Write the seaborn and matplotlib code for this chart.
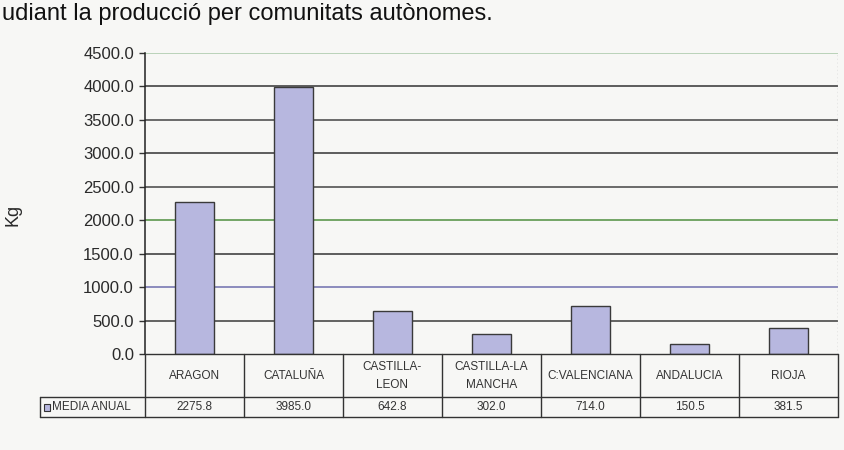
import numpy as np
import matplotlib
matplotlib.use("Agg")
import matplotlib.pyplot as plt
import seaborn as sns
import pandas as pd
from matplotlib.patches import Rectangle

# data
regions = [
    "ARAGON",
    "CATALUÑA",
    "CASTILLA-\nLEON",
    "CASTILLA-LA\nMANCHA",
    "C:VALENCIANA",
    "ANDALUCIA",
    "RIOJA",
]
media_anual = [2275.8, 3985.0, 642.8, 302.0, 714.0, 150.5, 381.5]
y_ticks = [0, 500, 1000, 1500, 2000, 2500, 3000, 3500, 4000, 4500]
series_name = "MEDIA ANUAL"
y_label = "Kg"
header_text = "udiant la producció per comunitats autònomes."

# scan-like gridline tints
grid_colors = {
    500: "#3a3a3a", 1000: "#6f6fae", 1500: "#333333", 2000: "#4f8f3f",
    2500: "#444444", 3000: "#333333", 3500: "#444444", 4000: "#333333",
    4500: "#a9c9a9",
}

bg = "#f7f7f5"
bar_color = "#b7b7df"

sns.set_style("white")
plt.rcParams["font.family"] = ["Liberation Sans", "DejaVu Sans"]

W, H = 845, 450
fig = plt.figure(figsize=(W / 100, H / 100), dpi=100, facecolor=bg)

# plot area in pixels: x 145..838, y 53..354
ax = fig.add_axes([145 / W, (H - 354) / H, 693 / W, 301 / H])
ax.set_facecolor(bg)

df = pd.DataFrame({"region": regions, "value": media_anual})
sns.barplot(
    data=df, x="region", y="value", ax=ax,
    color=bar_color, width=0.4, saturation=1,
    edgecolor="#3a3a3a", linewidth=1.0, zorder=3,
)

ax.set_xlim(-0.5, len(regions) - 0.5)
ax.set_ylim(0, 4500)
ax.set_yticks(y_ticks)
ax.set_yticklabels([f"{v:.1f}" for v in y_ticks], fontsize=12, color="#2a2a2a")
ax.set_xticks([])
ax.set_xlabel("")
ax.set_ylabel(y_label, fontsize=13, color="#2a2a2a", rotation=90)
ax.yaxis.set_label_coords(-(145 - 22) / 693, (354 - 215) / 301)
ax.tick_params(axis="y", length=4, width=1, color="#333333", pad=4, left=True)

for v in y_ticks[1:]:
    ax.axhline(v, color=grid_colors[v], linewidth=1.1, zorder=1)

for s in ["top", "bottom", "right"]:
    ax.spines[s].set_visible(False)
ax.spines["left"].set_color("#222222")
ax.spines["left"].set_linewidth(1.1)
ax.axvline(len(regions) - 0.5, color="#aaaaaa", linewidth=1, linestyle=":", zorder=1)

# data table under the bars: y 354..417
tab = fig.add_axes([145 / W, (H - 417) / H, 693 / W, 63 / H])
tab.set_xlim(-0.5, len(regions) - 0.5)
tab.set_ylim(63, 0)
tab.axis("off")

line_kw = dict(color="#333333", linewidth=1, clip_on=False)
left_edge = -0.5 - 105 / 99
right_edge = len(regions) - 0.5
tab.plot([-0.5, right_edge], [0, 0], **line_kw)
tab.plot([left_edge, right_edge], [43, 43], **line_kw)
tab.plot([left_edge, right_edge], [63, 63], **line_kw)
tab.plot([left_edge, left_edge], [43, 63], **line_kw)
for i in range(len(regions) + 1):
    tab.plot([i - 0.5, i - 0.5], [0, 63], **line_kw)

for i, (name, val) in enumerate(zip(regions, media_anual)):
    tab.text(i, 22, name, ha="center", va="center", fontsize=8.5,
             color="#333333", linespacing=1.75)
    tab.text(i, 53.5, f"{val:.1f}", ha="center", va="center", fontsize=8.5,
             color="#333333")

tab.add_patch(Rectangle((left_edge + 4 / 99, 49.5), 6 / 99, 7,
                        facecolor=bar_color, edgecolor="#333333",
                        linewidth=0.8, clip_on=False))
tab.text(left_edge + 12 / 99, 53.5, series_name, ha="left", va="center",
         fontsize=8.5, color="#333333")

# caption from the scanned page
fig.text(2 / W, 1 - 20 / H, header_text, ha="left", va="baseline",
         fontsize=17, color="#111111")

fig.savefig("out.png", dpi=100, facecolor=bg)
